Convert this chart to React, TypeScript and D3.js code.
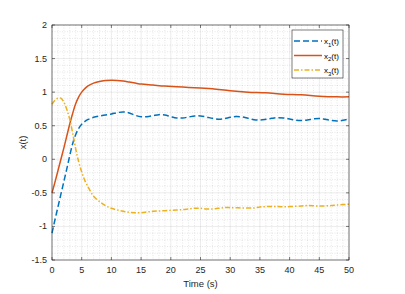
import React from 'react';
import * as d3 from 'd3';

// time samples (s) and the three states
const tX1 = [0, 0.5, 1, 1.5, 2, 2.5, 3, 3.5, 4, 4.5, 5, 5.5, 6, 7, 8, 9, 10, 11, 12, 13, 14, 15, 16, 17, 18, 19, 20, 21, 22, 23, 24, 25, 26, 27, 28, 29, 30, 31, 32, 33, 34, 35, 36, 37, 38, 39, 40, 41, 42, 43, 44, 45, 46, 47, 48, 49, 50];
const x1 = [-1.1, -0.9, -0.71, -0.52, -0.33, -0.14, 0.06, 0.24, 0.37, 0.46, 0.52, 0.56, 0.59, 0.625, 0.645, 0.66, 0.675, 0.695, 0.705, 0.69, 0.655, 0.635, 0.635, 0.65, 0.665, 0.66, 0.635, 0.615, 0.615, 0.63, 0.645, 0.645, 0.63, 0.61, 0.598, 0.605, 0.625, 0.636, 0.63, 0.61, 0.59, 0.585, 0.595, 0.61, 0.62, 0.615, 0.6, 0.582, 0.576, 0.585, 0.6, 0.608, 0.595, 0.578, 0.57, 0.58, 0.6];

const tX2 = [0, 0.5, 1, 1.5, 2, 2.5, 3, 3.5, 4, 4.5, 5, 5.5, 6, 7, 8, 9, 10, 11, 12, 13, 14, 15, 17, 19, 21, 23, 25, 27, 30, 33, 36, 39, 42, 45, 48, 50];
const x2 = [-0.5, -0.34, -0.17, 0.0, 0.17, 0.35, 0.53, 0.69, 0.83, 0.93, 1.0, 1.05, 1.09, 1.135, 1.16, 1.172, 1.178, 1.175, 1.165, 1.15, 1.135, 1.12, 1.105, 1.09, 1.08, 1.07, 1.06, 1.05, 1.02, 1.0, 0.99, 0.97, 0.96, 0.94, 0.93, 0.93];

const tX3 = [0, 0.5, 1, 1.5, 2, 2.5, 3, 3.5, 4, 4.5, 5, 5.5, 6, 6.5, 7, 8, 9, 10, 11, 12, 13, 14, 15, 16, 17, 18, 19, 20, 21, 22, 23, 24, 25, 26, 27, 28, 29, 30, 32, 34, 35, 36, 38, 40, 42, 43, 45, 47, 48, 50];
const x3 = [0.82, 0.88, 0.91, 0.91, 0.85, 0.74, 0.59, 0.38, 0.15, -0.04, -0.19, -0.31, -0.4, -0.48, -0.55, -0.63, -0.69, -0.73, -0.755, -0.775, -0.79, -0.795, -0.795, -0.785, -0.775, -0.77, -0.765, -0.76, -0.755, -0.75, -0.74, -0.73, -0.73, -0.74, -0.74, -0.73, -0.72, -0.72, -0.725, -0.725, -0.71, -0.705, -0.705, -0.705, -0.695, -0.69, -0.695, -0.69, -0.68, -0.67];

const xTicks = [0, 5, 10, 15, 20, 25, 30, 35, 40, 45, 50];
const yTicks = [-1.5, -1, -0.5, 0, 0.5, 1, 1.5, 2];
const legendNames = ['1', '2', '3'];

const W = 405;
const H = 294;
const m = { left: 52, right: 56, top: 25, bottom: 34 };
const font = '"Liberation Sans", Arial, Helvetica, sans-serif';
const axisCol = '#262626';

export default function App() {
  const x = d3.scaleLinear().domain([0, 50]).range([m.left, W - m.right]);
  const y = d3.scaleLinear().domain([-1.5, 2]).range([H - m.bottom, m.top]);

  const mk = (ts: number[], vs: number[]) =>
    d3.line<number>()
      .x((_, i) => x(ts[i]))
      .y(d => y(d))
      .curve(d3.curveCatmullRom.alpha(0.5))(vs) || '';

  const series = [
    { d: mk(tX1, x1), color: '#0072BD', dash: '6,3' },
    { d: mk(tX2, x2), color: '#D95319', dash: undefined },
    { d: mk(tX3, x3), color: '#EDB120', dash: '5,2,1.5,2' },
  ];

  const minorX = d3.range(0, 51, 1).filter(v => v % 5 !== 0);
  const minorY = d3.range(-15, 21, 1).map(v => v / 10).filter(v => Math.abs((v * 10) % 5) > 0.01);

  const x0 = x(0), x1p = x(50), y0 = y(-1.5), y1p = y(2);
  const tl = 3;

  return (
    <svg width={W} height={H} style={{ position: 'absolute', left: 0, top: 0, background: '#fff' }}>
      <rect x={x0} y={y1p} width={x1p - x0} height={y0 - y1p} fill="#fff" />
      {/* minor grid */}
      <g stroke={axisCol} strokeOpacity={0.22} strokeWidth={0.5} strokeDasharray="1,1.5">
        {minorX.map(v => <line key={'mx' + v} x1={x(v)} x2={x(v)} y1={y1p} y2={y0} />)}
        {minorY.map(v => <line key={'my' + v} x1={x0} x2={x1p} y1={y(v)} y2={y(v)} />)}
      </g>
      {/* major grid */}
      <g stroke={axisCol} strokeOpacity={0.15} strokeWidth={0.6}>
        {xTicks.map(v => <line key={'gx' + v} x1={x(v)} x2={x(v)} y1={y1p} y2={y0} />)}
        {yTicks.map(v => <line key={'gy' + v} x1={x0} x2={x1p} y1={y(v)} y2={y(v)} />)}
      </g>
      {series.map((s, i) => (
        <path key={i} d={s.d} fill="none" stroke={s.color} strokeWidth={1.5} strokeDasharray={s.dash} />
      ))}
      {/* axes box and ticks */}
      <g stroke={axisCol} strokeWidth={0.6} fill="none">
        <rect x={x0} y={y1p} width={x1p - x0} height={y0 - y1p} />
        {xTicks.map(v => (
          <g key={'tx' + v}>
            <line x1={x(v)} x2={x(v)} y1={y0} y2={y0 - tl} />
            <line x1={x(v)} x2={x(v)} y1={y1p} y2={y1p + tl} />
          </g>
        ))}
        {yTicks.map(v => (
          <g key={'ty' + v}>
            <line x1={x0} x2={x0 + tl} y1={y(v)} y2={y(v)} />
            <line x1={x1p} x2={x1p - tl} y1={y(v)} y2={y(v)} />
          </g>
        ))}
      </g>
      <g fontFamily={font} fontSize={9} fill={axisCol}>
        {xTicks.map(v => (
          <text key={'lx' + v} x={x(v)} y={y0 + 13} textAnchor="middle">{v}</text>
        ))}
        {yTicks.map(v => (
          <text key={'ly' + v} x={x0 - 5} y={y(v) + 3} textAnchor="end">{v}</text>
        ))}
        <text x={(x0 + x1p) / 2} y={H - 7} textAnchor="middle" fontSize={9.5}>Time (s)</text>
        <text transform={`translate(26,${(y0 + y1p) / 2}) rotate(-90)`} textAnchor="middle" fontSize={9.5}>x(t)</text>
      </g>
      {/* legend */}
      <g fontFamily={font} fontSize={8} fill="#000">
        <rect x={292} y={30} width={51} height={48} fill="#fff" stroke={axisCol} strokeWidth={0.6} />
        {series.map((s, i) => {
          const ly = 41 + i * 14.5;
          return (
            <g key={'lg' + i}>
              <line x1={294} x2={322} y1={ly} y2={ly} stroke={s.color} strokeWidth={1.5} strokeDasharray={s.dash} />
              <text x={324} y={ly + 3}>
                x<tspan fontSize={6} dy={2.5}>{legendNames[i]}</tspan><tspan dy={-2.5}>(t)</tspan>
              </text>
            </g>
          );
        })}
      </g>
    </svg>
  );
}
